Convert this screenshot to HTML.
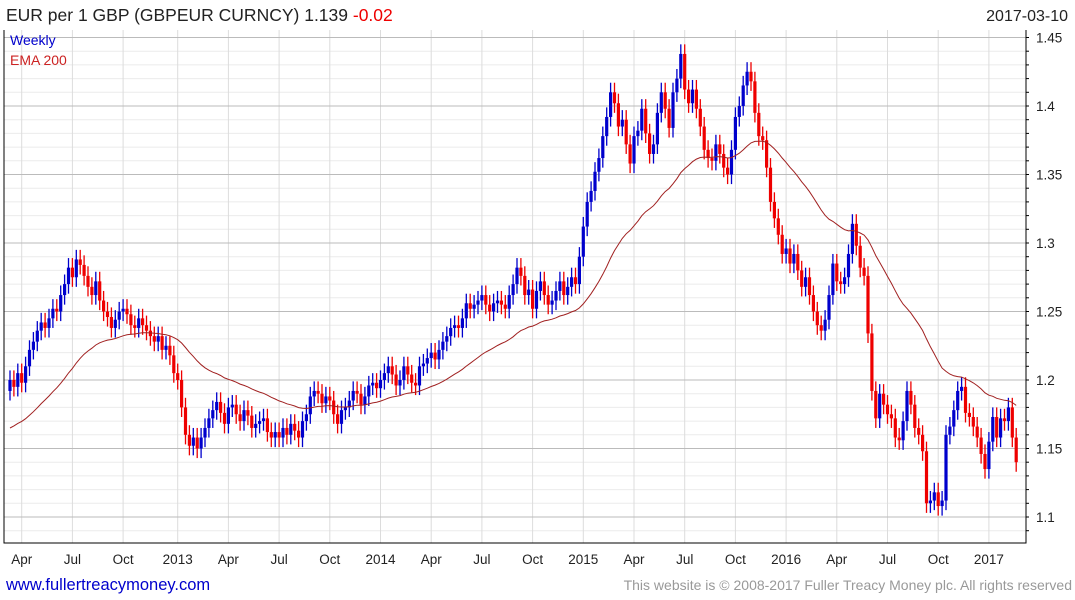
<!DOCTYPE html>
<html><head><meta charset="utf-8">
<style>
body{margin:0;background:#fff;width:1075px;height:600px;overflow:hidden;font-family:"Liberation Sans",sans-serif}
svg{position:absolute;left:0;top:0}
</style></head>
<body>
<svg id="chart" width="1075" height="600" xmlns="http://www.w3.org/2000/svg">
<text x="6" y="21" font-size="17.5" fill="#222">EUR per 1 GBP (GBPEUR CURNCY) 1.139 <tspan fill="#e00">-0.02</tspan></text>
<text x="1068" y="21" font-size="16" fill="#222" text-anchor="end">2017-03-10</text>
<g id="grid"></g>
<g id="marks"></g>
<text x="10" y="45" font-size="14" fill="#0000cc">Weekly</text>
<text x="10" y="65" font-size="14" fill="#cc2222">EMA 200</text>
<text x="6" y="590" font-size="16.5" fill="#0000cc">www.fullertreacymoney.com</text>
<text x="1072" y="590" font-size="14" fill="#999" text-anchor="end">This website is © 2008-2017 Fuller Treacy Money plc. All rights reserved</text>
</svg>
<script>
const closes=[1.200,1.195,1.205,1.198,1.210,1.222,1.228,1.236,1.242,1.238,
1.245,1.252,1.250,1.262,1.270,1.282,1.275,1.288,1.284,1.276,
1.268,1.262,1.272,1.258,1.250,1.246,1.238,1.244,1.250,1.252,
1.248,1.240,1.238,1.245,1.240,1.236,1.232,1.228,1.232,1.222,
1.225,1.218,1.205,1.200,1.180,1.160,1.152,1.158,1.150,1.158,
1.165,1.172,1.178,1.184,1.176,1.168,1.180,1.182,1.175,1.170,
1.178,1.174,1.165,1.168,1.170,1.172,1.162,1.158,1.162,1.158,
1.165,1.160,1.168,1.163,1.158,1.170,1.175,1.188,1.192,1.190,
1.183,1.188,1.185,1.175,1.168,1.178,1.180,1.185,1.192,1.190,
1.182,1.188,1.196,1.198,1.194,1.200,1.205,1.210,1.204,1.196,
1.200,1.210,1.204,1.198,1.196,1.210,1.212,1.216,1.220,1.215,
1.222,1.228,1.232,1.238,1.240,1.238,1.245,1.256,1.252,1.255,
1.258,1.262,1.255,1.250,1.256,1.258,1.255,1.252,1.262,1.270,
1.282,1.276,1.262,1.266,1.252,1.265,1.272,1.262,1.255,1.258,
1.265,1.272,1.262,1.268,1.275,1.270,1.290,1.312,1.330,1.338,
1.352,1.362,1.378,1.392,1.410,1.402,1.385,1.390,1.372,1.358,
1.378,1.382,1.398,1.380,1.365,1.372,1.395,1.410,1.398,1.384,
1.410,1.420,1.438,1.412,1.402,1.412,1.398,1.385,1.368,1.362,
1.360,1.372,1.365,1.355,1.350,1.368,1.392,1.400,1.415,1.425,
1.418,1.395,1.378,1.375,1.355,1.330,1.318,1.306,1.292,1.296,
1.285,1.292,1.280,1.268,1.275,1.262,1.250,1.240,1.236,1.244,
1.262,1.285,1.272,1.270,1.275,1.292,1.314,1.298,1.282,1.276,
1.234,1.192,1.172,1.190,1.182,1.175,1.172,1.158,1.156,1.170,
1.192,1.182,1.165,1.160,1.148,1.110,1.112,1.118,1.108,1.112,
1.160,1.166,1.178,1.192,1.195,1.176,1.173,1.166,1.158,1.146,
1.135,1.155,1.173,1.158,1.172,1.170,1.180,1.158,1.140];
const firstOpen=1.192;
const emaSeed=1.165;
const emaPeriod=40;
const yTicks=[1.1,1.15,1.2,1.25,1.3,1.35,1.4,1.45];
const xTickLabels=["Apr","Jul","Oct","2013","Apr","Jul","Oct","2014","Apr","Jul","Oct","2015","Apr","Jul","Oct","2016","Apr","Jul","Oct","2017"];
const xTickWeeks=[3,16,29,43,56,69,82,95,108,121,134,147,160,173,186,199,212,225,238,251];

const NS="http://www.w3.org/2000/svg";
const L=4,R=1026,T=30,B=543;
function y(v){return 517-(v-1.1)*1370;}
function x(i){return 10+i*3.9;}
function mk(tag,attrs,parent){const e=document.createElementNS(NS,tag);for(const k in attrs)e.setAttribute(k,attrs[k]);parent.appendChild(e);return e;}
const grid=document.getElementById('grid'),marks=document.getElementById('marks');
for(let v=1.09;v<=1.455;v+=0.01){const yy=y(v);if(yy<T||yy>B)continue;
 const ln=mk('line',{x1:L,x2:R,y1:yy,y2:yy,stroke:'#ebebeb','stroke-width':1},grid);
 
 
 const tk=mk('line',{x1:R,x2:R+3,y1:yy,y2:yy,stroke:'#000'},grid);
 
 }
xTickWeeks.forEach((w,k)=>{const xx=x(w);
 const ln=mk('line',{x1:xx,x2:xx,y1:T,y2:B,stroke:'#dcdcdc'},grid);
 
 
 const t=mk('text',{x:xx,y:564,'font-size':13.5,'text-anchor':'middle',fill:'#222'},grid);t.textContent=xTickLabels[k];
 
 });
yTicks.forEach(v=>{const yy=y(v);
 const ln=mk('line',{x1:L,x2:R,y1:yy,y2:yy,stroke:'#bbb'},grid);
 
 
 const t=mk('text',{x:1036,y:yy+5,'font-size':13.5,fill:'#222'},grid);t.textContent=String(v).length<4?v.toFixed(1):String(v);
 
 });
const ax=mk('path',{d:`M${L},${T}V${B}H${R}V${T}`,stroke:'#000',fill:'none'},grid);


let prev=firstOpen;
closes.forEach((c,i)=>{const o=prev;const up=c>=o;const col=up?'#0000cc':'#ee0000';
 const hi=Math.max(o,c)+0.007,lo=Math.min(o,c)-0.007;const xx=x(i);
 const w=mk('line',{x1:xx,x2:xx,y1:y(hi),y2:y(lo),stroke:col,'stroke-width':1.3},marks);
 
 
 const h=Math.max(1,Math.abs(y(o)-y(c)));
 const b=mk('rect',{x:xx-1.6,y:Math.min(y(o),y(c)),width:3.2,height:h,fill:col},marks);
 
 
 prev=c;});
let e=emaSeed;const a=2/(emaPeriod+1);let d='';
closes.forEach((c,i)=>{if(i>0)e=e+a*(c-e);d+=(i?'L':'M')+x(i).toFixed(1)+','+y(e).toFixed(1);});
const p=mk('path',{d:d,stroke:'#a02020',fill:'none','stroke-width':1},marks);


</script>
</body></html>
